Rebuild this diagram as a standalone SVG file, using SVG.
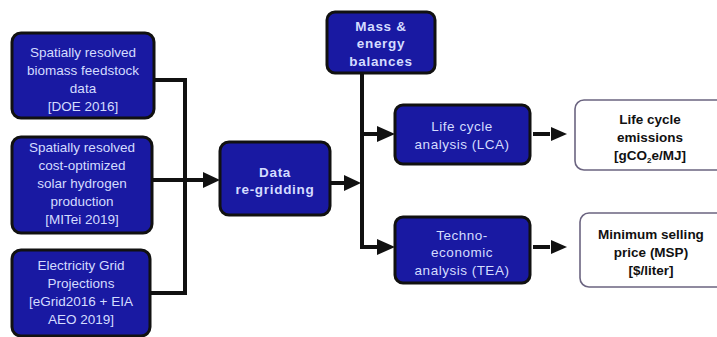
<svg xmlns="http://www.w3.org/2000/svg" width="717" height="337" viewBox="0 0 717 337">
  <defs>
    <style>
      .blue { fill: #1919a2; stroke: #111; stroke-width: 3; }
      .out { fill: #fff; stroke: #6b6480; stroke-width: 1.6; }
      .t { font-family: "Liberation Sans", Arial, sans-serif; font-size: 13.5px; fill: #d4dcff; text-anchor: middle; }
      .tb { font-family: "Liberation Sans", Arial, sans-serif; font-size: 13.5px; font-weight: bold; fill: #d4dcff; text-anchor: middle; letter-spacing: 0.7px; }
      .to { font-family: "Liberation Sans", Arial, sans-serif; font-size: 13.5px; font-weight: bold; fill: #111; text-anchor: middle; }
      .ln { fill: none; stroke: #111; stroke-width: 4; }
      .head { fill: #111; }
    </style>
  </defs>
  <rect width="717" height="337" fill="#fff"/>

  <g id="connectors">
    <!-- inputs merge into data re-gridding -->
    <polyline class="ln" points="154,80 185,80 185,293 150,293"/>
    <line class="ln" x1="152" y1="180" x2="205" y2="180" stroke-width="5"/>
    <polygon class="head" points="203,172 220,180 203,188"/>
    <!-- data re-gridding to the trunk -->
    <line class="ln" x1="330" y1="183" x2="346" y2="183" stroke-width="5"/>
    <polygon class="head" points="344,175 361,183 344,191"/>
    <!-- trunk from mass & energy balances -->
    <line class="ln" x1="362" y1="73" x2="362" y2="249"/>
    <line class="ln" x1="362" y1="134" x2="380" y2="134"/>
    <polygon class="head" points="377,126 395,134 377,142"/>
    <line class="ln" x1="360" y1="247" x2="380" y2="247"/>
    <polygon class="head" points="377,239 395,247 377,255"/>
    <!-- analysis to results -->
    <line class="ln" x1="533" y1="134" x2="550" y2="134"/>
    <polygon class="head" points="551,127 567,134 551,141"/>
    <line class="ln" x1="533" y1="247" x2="550" y2="247"/>
    <polygon class="head" points="551,240 567,247 551,254"/>
  </g>

  <g id="biomass">
    <rect class="blue" x="12" y="33" width="142" height="85" rx="9"/>
    <text class="t" x="83" y="57">Spatially resolved</text>
    <text class="t" x="83" y="75">biomass feedstock</text>
    <text class="t" x="83" y="93">data</text>
    <text class="t" x="83" y="111">[DOE 2016]</text>
  </g>

  <g id="hydrogen">
    <rect class="blue" x="12" y="137" width="140" height="96" rx="9"/>
    <text class="t" x="82" y="152">Spatially resolved</text>
    <text class="t" x="82" y="170">cost-optimized</text>
    <text class="t" x="82" y="188">solar hydrogen</text>
    <text class="t" x="82" y="206">production</text>
    <text class="t" x="82" y="224">[MITei 2019]</text>
  </g>

  <g id="grid">
    <rect class="blue" x="12" y="250" width="138" height="86" rx="9"/>
    <text class="t" x="81" y="270">Electricity Grid</text>
    <text class="t" x="81" y="288">Projections</text>
    <text class="t" x="81" y="306">[eGrid2016 + EIA</text>
    <text class="t" x="81" y="324">AEO 2019]</text>
  </g>

  <g id="regrid">
    <rect class="blue" x="220" y="142" width="110" height="73" rx="9"/>
    <text class="tb" x="275" y="177">Data</text>
    <text class="tb" x="275" y="194">re-gridding</text>
  </g>

  <g id="balances">
    <rect class="blue" x="327" y="12" width="108" height="61" rx="8"/>
    <text class="tb" x="381" y="31">Mass &amp;</text>
    <text class="tb" x="381" y="48">energy</text>
    <text class="tb" x="381" y="66">balances</text>
  </g>

  <g id="lca">
    <rect class="blue" x="395" y="105" width="135" height="59" rx="8"/>
    <text class="t" x="462" y="131" letter-spacing="0.5">Life cycle</text>
    <text class="t" x="462" y="149" letter-spacing="0.5">analysis (LCA)</text>
  </g>

  <g id="tea">
    <rect class="blue" x="395" y="217" width="135" height="66" rx="8"/>
    <text class="t" x="462" y="240" letter-spacing="0.5">Techno-</text>
    <text class="t" x="462" y="257" letter-spacing="0.5">economic</text>
    <text class="t" x="462" y="275" letter-spacing="0.5">analysis (TEA)</text>
  </g>

  <g id="emissions">
    <rect class="out" x="575" y="100" width="150" height="70" rx="9"/>
    <text class="to" x="650" y="124">Life cycle</text>
    <text class="to" x="650" y="142">emissions</text>
    <text class="to" x="650" y="160">[gCO<tspan font-size="8" dy="3">2</tspan><tspan dy="-3">e/MJ]</tspan></text>
  </g>

  <g id="price">
    <rect class="out" x="580" y="213" width="145" height="74" rx="9"/>
    <text class="to" x="651" y="239">Minimum selling</text>
    <text class="to" x="651" y="257">price (MSP)</text>
    <text class="to" x="651" y="275">[$/liter]</text>
  </g>
</svg>
